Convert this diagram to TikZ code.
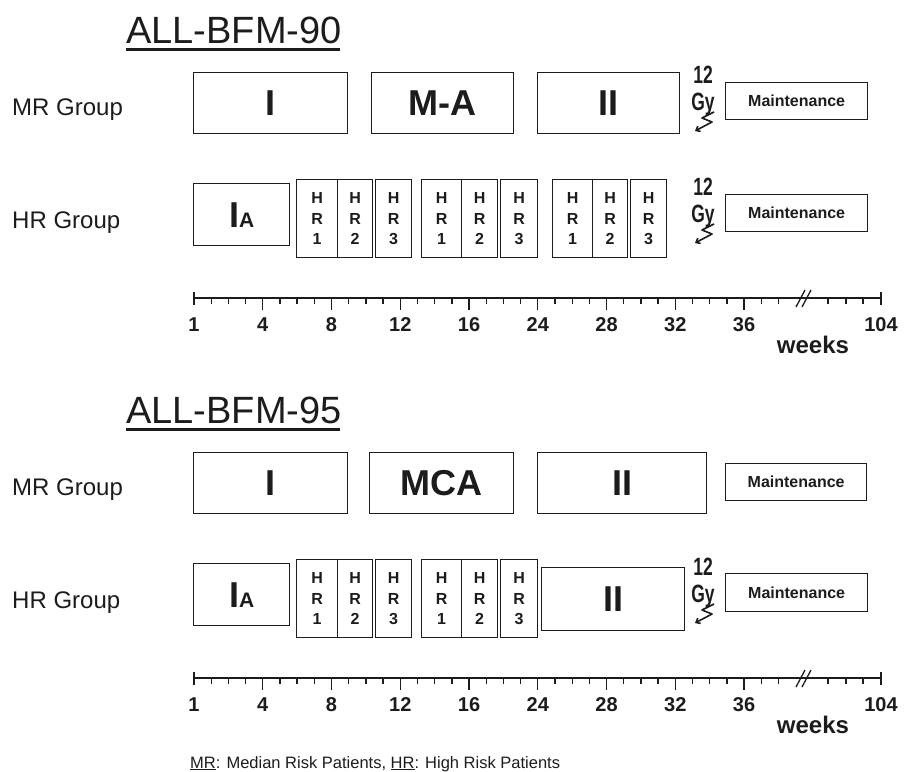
\documentclass[tikz,border=0pt]{standalone}
\usepackage{fontspec}
\setmainfont{Liberation Sans}
\newfontfamily\narrowfont[FakeStretch=0.7]{Liberation Sans}
\usetikzlibrary{arrows.meta}
\definecolor{ink}{HTML}{1C1C1C}
\tikzset{
  box/.style={draw=ink, line width=1.3pt, inner sep=0pt, anchor=north west, text=ink,
    font=\fontsize{36}{36}\selectfont\bfseries},
  maint/.style={box, font=\fontsize{16}{16}\selectfont\bfseries},
  hrcol/.style={box, align=center, font=\fontsize{16}{20.5}\selectfont\bfseries},
  grp/.style={anchor=base west, text=ink, inner sep=0pt, font=\fontsize{24}{24}\selectfont},
  ttl/.style={anchor=base west, text=ink, inner sep=0pt, font=\fontsize{38}{38}\selectfont},
  gy/.style={anchor=base, text=ink, inner sep=0pt, font=\narrowfont\fontsize{25}{25}\selectfont\bfseries},
  bolt/.style={draw=ink, line width=1.6pt, line join=round, -{Straight Barb[length=3.5pt,width=6pt]}},
  axisl/.style={draw=ink, line width=1.3pt},
  axlab/.style={anchor=base, text=ink, inner sep=0pt, font=\fontsize{20}{20}\selectfont\bfseries},
  wk/.style={anchor=base, text=ink, inner sep=0pt, font=\fontsize{24}{24}\selectfont\bfseries},
  foot/.style={anchor=base west, text=ink, inner sep=0pt, font=\fontsize{16.5}{16.5}\selectfont},
}
\newcommand\myaxis[2]{% #1 = y, #2 = name prefix
  \coordinate (#2s) at (194,#1);
  \coordinate (#2e) at (881,#1);
  \draw[axisl] (#2s) -- (#2e);
  \draw[axisl] ([yshift=6pt]#2s) -- ([yshift=-7pt]#2s);
  \draw[axisl] ([yshift=6pt]#2e) -- ([yshift=-7pt]#2e);
  \foreach \k in {1,...,34}{
    \pgfmathtruncatemacro\mm{mod(\k,4)}
    \ifnum\mm=0
      \draw[axisl] (194+17.19*\k,#1) -- ++(0,12);
    \else
      \draw[axisl] (194+17.19*\k,#1) -- ++(0,6);
    \fi
  }
  \foreach \xx in {828,846,863}{\draw[axisl] (\xx,#1) -- ++(0,6);}
  \draw[axisl] (796,#1+9) -- (805,#1-8);
  \draw[axisl] (802,#1+9) -- (811,#1-8);
  \foreach \k/\lab in {0/1,4/4,8/8,12/12,16/16,20/24,24/28,28/32,32/36}{
    \node[axlab] (#2l\k) at (194+17.19*\k,#1+33) {\lab};
  }
  \node[axlab] (#2l104) at (881,#1+33) {104};
  \node[wk] (#2wk) at (813,#1+55) {weeks};
}
\begin{document}
\begin{tikzpicture}[x=1pt,y=-1pt]
\useasboundingbox (0,0) rectangle (907,771);

% ---------------- ALL-BFM-90 ----------------
\node[ttl] (t1) at (126,43) {ALL-BFM-90};
\draw[line width=2.6pt, ink] (126,49.5) -- (340,49.5);

\node[grp] (mr1) at (12,115) {MR Group};
\node[grp] (hr1) at (12,228) {HR Group};

\node[box, minimum width=154pt, minimum height=61pt] (a1I) at (193,72) {I};
\node[box, minimum width=142pt, minimum height=61pt] (a1MA) at (371,72) {M-A};
\node[box, minimum width=142pt, minimum height=61pt] (a1II) at (537,72) {II};
\node[maint, minimum width=142pt, minimum height=37pt] (a1M) at (725,82) {Maintenance};
\node[gy] (a1d) at (703,83) {12};
\node[gy] (a1g) at (703,110) {Gy};
\coordinate (a1b) at (714,112);
\draw[bolt] (a1b) -- ++(-12,6) -- ++(10,4) -- ++(-17,9);

\node[box, minimum width=96pt, minimum height=62pt] (b1IA) at (193,183)
  {I\fontsize{21}{21}\selectfont A};
\node[hrcol, minimum width=41pt, minimum height=78pt] (b1c11) at (296,179) {H\\R\\1};
\node[hrcol, minimum width=35pt, minimum height=78pt] (b1c12) at (337,179) {H\\R\\2};
\node[hrcol, minimum width=36pt, minimum height=78pt] (b1c13) at (375,179) {H\\R\\3};
\node[hrcol, minimum width=40pt, minimum height=78pt] (b1c21) at (421,179) {H\\R\\1};
\node[hrcol, minimum width=36pt, minimum height=78pt] (b1c22) at (461,179) {H\\R\\2};
\node[hrcol, minimum width=37pt, minimum height=78pt] (b1c23) at (500,179) {H\\R\\3};
\node[hrcol, minimum width=40pt, minimum height=78pt] (b1c31) at (552,179) {H\\R\\1};
\node[hrcol, minimum width=35pt, minimum height=78pt] (b1c32) at (592,179) {H\\R\\2};
\node[hrcol, minimum width=36pt, minimum height=78pt] (b1c33) at (630,179) {H\\R\\3};
\node[maint, minimum width=142pt, minimum height=37pt] (b1M) at (725,194) {Maintenance};
\node[gy] (b1d) at (703,195) {12};
\node[gy] (b1g) at (703,222) {Gy};
\coordinate (b1b) at (714,224);
\draw[bolt] (b1b) -- ++(-12,6) -- ++(10,4) -- ++(-17,9);

\myaxis{298}{x1}

% ---------------- ALL-BFM-95 ----------------
\node[ttl] (t2) at (126,423) {ALL-BFM-95};
\draw[line width=2.6pt, ink] (126,429.5) -- (340,429.5);

\node[grp] (mr2) at (12,495) {MR Group};
\node[grp] (hr2) at (12,608) {HR Group};

\node[box, minimum width=154pt, minimum height=61pt] (a2I) at (193,452) {I};
\node[box, minimum width=144pt, minimum height=61pt] (a2MCA) at (369,452) {MCA};
\node[box, minimum width=169pt, minimum height=61pt] (a2II) at (537,452) {II};
\node[maint, minimum width=141pt, minimum height=37pt] (a2M) at (725,463) {Maintenance};

\node[box, minimum width=96pt, minimum height=62pt] (b2IA) at (193,563)
  {I\fontsize{21}{21}\selectfont A};
\node[hrcol, minimum width=41pt, minimum height=78pt] (b2c11) at (296,559) {H\\R\\1};
\node[hrcol, minimum width=35pt, minimum height=78pt] (b2c12) at (337,559) {H\\R\\2};
\node[hrcol, minimum width=36pt, minimum height=78pt] (b2c13) at (375,559) {H\\R\\3};
\node[hrcol, minimum width=40pt, minimum height=78pt] (b2c21) at (421,559) {H\\R\\1};
\node[hrcol, minimum width=36pt, minimum height=78pt] (b2c22) at (461,559) {H\\R\\2};
\node[hrcol, minimum width=37pt, minimum height=78pt] (b2c23) at (500,559) {H\\R\\3};
\node[box, minimum width=143pt, minimum height=63pt] (b2II) at (541,567) {II};
\node[maint, minimum width=142pt, minimum height=38pt] (b2M) at (725,573) {Maintenance};
\node[gy] (b2d) at (703,575) {12};
\node[gy] (b2g) at (703,602) {Gy};
\coordinate (b2b) at (714,604);
\draw[bolt] (b2b) -- ++(-12,6) -- ++(10,4) -- ++(-17,9);

\myaxis{678}{x2}

\node[foot] (fn) at (190,768) {\underline{MR}: Median Risk Patients, \underline{HR}: High Risk Patients};
\end{tikzpicture}
\end{document}
